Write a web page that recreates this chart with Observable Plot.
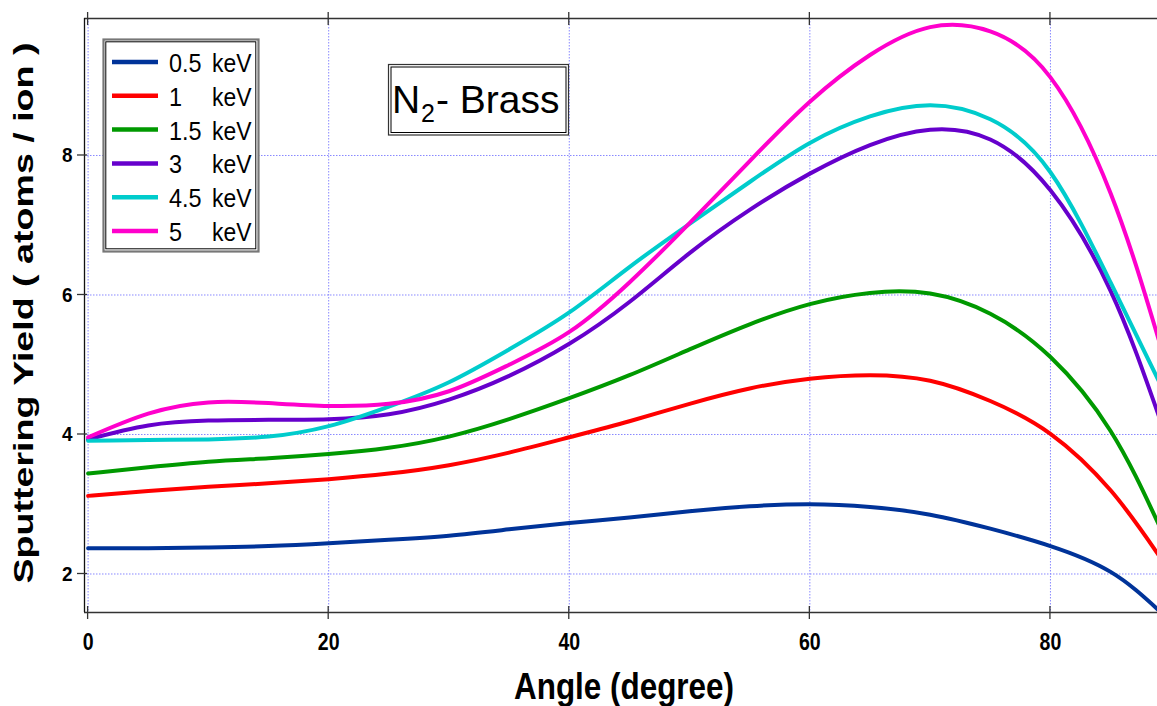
<!DOCTYPE html>
<html><head><meta charset="utf-8">
<script src="https://cdn.jsdelivr.net/npm/d3@7"></script>
<script src="https://cdn.jsdelivr.net/npm/@observablehq/plot@0.6"></script>
<style>
html,body{margin:0;padding:0;background:#fff;}
#chart{position:relative;width:1157px;height:706px;overflow:hidden;}
</style></head><body><div id="chart"></div>
<script>
// Angle (degree)
const angles = [0,5,10,15,20,25,30,35,40,45,50,55,60,65,70,75,80,85,89];
// Sputtering yield (atoms / ion) per energy
const kev05 = [2.37,2.37,2.38,2.40,2.44,2.49,2.55,2.64,2.73,2.81,2.90,2.97,3.00,2.96,2.85,2.65,2.40,2.03,1.48];
const kev1  = [3.12,3.19,3.25,3.30,3.36,3.44,3.56,3.74,3.96,4.19,4.44,4.66,4.80,4.85,4.77,4.48,4.01,3.20,2.27];
const kev15 = [3.44,3.53,3.61,3.66,3.72,3.81,3.97,4.22,4.52,4.85,5.22,5.58,5.87,6.03,6.02,5.73,5.11,4.05,2.71];
const kev3  = [3.93,4.13,4.20,4.21,4.22,4.29,4.50,4.84,5.30,5.90,6.60,7.22,7.74,8.15,8.37,8.23,7.50,6.06,4.27];
const kev45 = [3.91,3.92,3.93,3.97,4.12,4.40,4.75,5.22,5.75,6.40,7.02,7.62,8.18,8.56,8.72,8.52,7.76,6.18,4.77];
const kev5  = [3.96,4.30,4.46,4.45,4.41,4.44,4.62,5.00,5.47,6.18,7.03,7.92,8.77,9.44,9.84,9.78,9.12,7.46,5.36];
const energies = ["0.5","1","1.5","3","4.5","5"];
const series = [kev05, kev1, kev15, kev3, kev45, kev5];
const colors = ["#003399","#ff0000","#009900","#6600cc","#00cccc","#ff00cc"];
const xTicks = [0,20,40,60,80];
const yTicks = [2,4,6,8];
const xDomain = [-0.3, 88.9];
const yDomain = [1.448, 9.964];
const titleMain = "N", titleSub = "2", titleRest = "- Brass";
const xLabel = "Angle (degree)";
const yLabel = "Sputtering Yield ( atoms / ion )";

const data = [];
series.forEach((vals, i) => vals.forEach((v, j) => data.push({angle: angles[j], yield: v, energy: energies[i]})));

const FONT = "'Liberation Sans', Arial, Helvetica, sans-serif";

const plot = Plot.plot({
  width: 1157, height: 706,
  marginLeft: 84, marginRight: 0, marginTop: 18, marginBottom: 94,
  style: {fontFamily: FONT, background: "#fff", overflow: "hidden"},
  x: {domain: xDomain, label: null},
  y: {domain: yDomain, label: null},
  color: {domain: energies, range: colors},
  marks: [
    Plot.gridX(xTicks, {stroke: "#8888ff", strokeOpacity: 1, strokeDasharray: "1.5,1.5", strokeWidth: 1}),
    Plot.gridY(yTicks, {stroke: "#8888ff", strokeOpacity: 1, strokeDasharray: "1.5,1.5", strokeWidth: 1}),
    Plot.ruleY([yDomain[0], yDomain[1]], {stroke: "#333", strokeWidth: 1.5}),
    Plot.ruleX([xDomain[0]], {stroke: "#111", strokeWidth: 1.3}),
    Plot.axisX(xTicks, {tickSize: 0, tickPadding: 21, fontSize: 23, fontWeight: "bold", label: null, tickFormat: d => String(d)}),
    Plot.axisY(yTicks, {tickSize: 0, tickPadding: 12, fontSize: 21, fontWeight: "bold", label: null, tickFormat: d => String(d)}),
    Plot.line(data, {x: "angle", y: "yield", stroke: "energy", z: "energy", curve: "natural", strokeWidth: 4, clip: true})
  ]
});

document.getElementById("chart").appendChild(plot);

const svg = d3.select(plot);
const xs = plot.scale("x"), ys = plot.scale("y");

function condense(sel, f) {
  sel.each(function() {
    const w = this.getComputedTextLength();
    this.setAttribute("textLength", w * f);
    this.setAttribute("lengthAdjust", "spacingAndGlyphs");
  });
}

// tick label styling
svg.selectAll('g[aria-label^="x-axis"] text').attr("font-weight", "bold").attr("font-size", 23).attr("fill", "#000");
condense(svg.selectAll('g[aria-label^="x-axis"] text'), 0.85);
svg.selectAll('g[aria-label^="y-axis"] text').attr("font-weight", "bold").attr("font-size", 21).attr("fill", "#000");
condense(svg.selectAll('g[aria-label^="y-axis"] text'), 0.9);

// tick marks crossing the frame
const tg = svg.append("g").attr("stroke", "#333").attr("stroke-width", 1.3);
const [yB, yT] = [ys.apply(yDomain[0]), ys.apply(yDomain[1])];
const xL = xs.apply(xDomain[0]);
xTicks.forEach(t => {
  const px = xs.apply(t);
  tg.append("line").attr("x1", px).attr("x2", px).attr("y1", yB - 6).attr("y2", yB + 7);
  tg.append("line").attr("x1", px).attr("x2", px).attr("y1", yT - 6).attr("y2", yT + 7);
});
yTicks.forEach(t => {
  const py = ys.apply(t);
  tg.append("line").attr("x1", xL - 7).attr("x2", xL + 3).attr("y1", py).attr("y2", py);
});

// axis titles
const xl = svg.append("text").attr("x", 624).attr("y", 699).attr("text-anchor", "middle")
  .attr("font-family", FONT).attr("font-weight", "bold").attr("font-size", 37).attr("fill", "#000").text(xLabel);
xl.attr("textLength", 220).attr("lengthAdjust", "spacingAndGlyphs");
const yl = svg.append("text").attr("transform", "translate(33,313) rotate(-90)").attr("text-anchor", "middle")
  .attr("font-family", FONT).attr("font-weight", "bold").attr("font-size", 28).attr("fill", "#000").text(yLabel);
yl.attr("textLength", 541).attr("lengthAdjust", "spacingAndGlyphs");

// legend
const lg = svg.append("g").attr("font-family", FONT).attr("text-anchor", "start");
lg.append("rect").attr("x", 103.5).attr("y", 39.5).attr("width", 155).attr("height", 212)
  .attr("fill", "#fff").attr("stroke", "#777").attr("stroke-width", 2.2);
lg.append("rect").attr("x", 105.8).attr("y", 41.8).attr("width", 150).attr("height", 207)
  .attr("fill", "none").attr("stroke", "#000").attr("stroke-width", 1);
energies.forEach((e, i) => {
  const cy = 62 + i * 33.8;
  lg.append("line").attr("x1", 112).attr("x2", 158).attr("y1", cy).attr("y2", cy)
    .attr("stroke", colors[i]).attr("stroke-width", 4.5);
  const t1 = lg.append("text").attr("x", 169).attr("y", cy + 10).attr("font-size", 26).attr("fill", "#000").attr("text-anchor", "start").text(e);
  const t2 = lg.append("text").attr("x", 212).attr("y", cy + 10).attr("font-size", 26).attr("fill", "#000").attr("text-anchor", "start").text("keV");
  condense(t1, 0.9); condense(t2, 0.88);
});

// title box
const tb = svg.append("g").attr("font-family", FONT).attr("text-anchor", "start").attr("fill", "#000");
tb.append("rect").attr("x", 388.5).attr("y", 64.5).attr("width", 180).attr("height", 70.5)
  .attr("fill", "#fff").attr("stroke", "#333").attr("stroke-width", 1.2);
tb.append("rect").attr("x", 391).attr("y", 67).attr("width", 175).attr("height", 65.5)
  .attr("fill", "none").attr("stroke", "#000").attr("stroke-width", 1);
tb.append("text").attr("x", 392).attr("y", 112.7).attr("font-size", 39).attr("text-anchor", "start").text(titleMain);
tb.append("text").attr("x", 421).attr("y", 121.5).attr("font-size", 25).attr("text-anchor", "start").text(titleSub);
tb.append("text").attr("x", 436).attr("y", 112.7).attr("font-size", 39).attr("text-anchor", "start").text(titleRest);
</script>
</body></html>
